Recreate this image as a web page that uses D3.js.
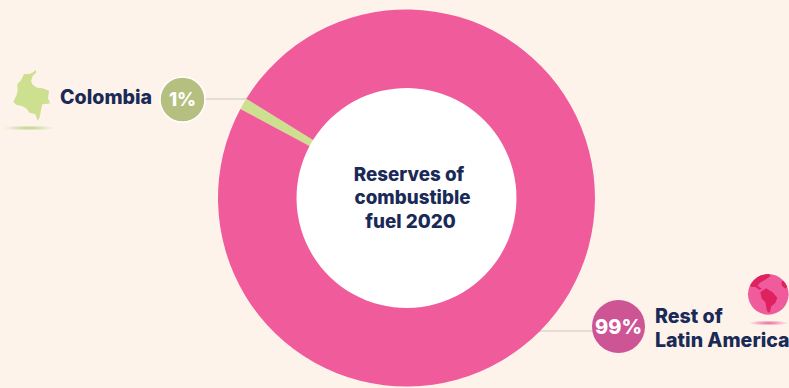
<!DOCTYPE html>
<html>
<head>
<meta charset="utf-8">
<script src="https://cdn.jsdelivr.net/npm/d3@7"></script>
<style>
  html, body { margin: 0; padding: 0; background: #fef3ea; overflow: hidden; }
  svg { display: block; }
  text { font-family: Inter, "Noto Sans", sans-serif; font-weight: 800; }
</style>
</head>
<body>
<svg id="chart" width="789" height="388"></svg>
<script>
// Share of Latin American combustible fuel reserves, 2020
const regions = ["Colombia", "Rest of Latin America"];
const shares = [1, 99];
const shareLabels = ["1%", "99%"];
const sliceColors = ["#cde08f", "#ef5b9b"];
const bubbleColors = ["#b5bf80", "#cd5495"];
const titleLines = ["Reserves of", "combustible", "fuel 2020"];
const restLabelLines = ["Rest of", "Latin America"];

const navy = "#1a2a57";
const svg = d3.select("#chart");
const cx = 406.5, cy = 198, outerR = 188.5, innerR = 110;

const defs = svg.append("defs");
[["shadowGreen", "#b9d486"], ["shadowPink", "#e9659f"]].forEach(([id, color]) => {
  const g = defs.append("radialGradient").attr("id", id);
  g.append("stop").attr("offset", "0%").attr("stop-color", color).attr("stop-opacity", 1);
  g.append("stop").attr("offset", "100%").attr("stop-color", color).attr("stop-opacity", 0);
});
defs.append("clipPath").attr("id", "globeClip")
  .append("circle").attr("cx", 565).attr("cy", 88).attr("r", 61);

// Donut, with the Colombia slice sitting on the upper left
const startAngle = -61.8 * Math.PI / 180;
const pie = d3.pie().sort(null).startAngle(startAngle).endAngle(startAngle + 2 * Math.PI);
const arc = d3.arc().innerRadius(innerR).outerRadius(outerR);

// Leader lines run underneath the ring
svg.append("line").attr("x1", 206).attr("x2", 250).attr("y1", 99).attr("y2", 99)
  .attr("stroke", "#dcd5cb").attr("stroke-width", 1.6);
svg.append("line").attr("x1", 530).attr("x2", 596).attr("y1", 331).attr("y2", 331)
  .attr("stroke", "#dcd5cb").attr("stroke-width", 1.6);

const ring = svg.append("g").attr("transform", `translate(${cx},${cy})`);
ring.append("circle").attr("r", innerR).attr("fill", "#ffffff");
ring.selectAll("path").data(pie(shares)).join("path")
  .attr("d", arc)
  .attr("fill", (d, i) => sliceColors[i]);

// Centre title
const titleX = [409, 412.5, 410.5];
const titleY = [181, 204, 228];
svg.append("g").selectAll("text").data(titleLines).join("text")
  .attr("x", (d, i) => titleX[i])
  .attr("y", (d, i) => titleY[i])
  .attr("text-anchor", "middle")
  .attr("font-size", 18.8)
  .attr("fill", navy)
  .text(d => d);

// Percentage bubbles
const bubbles = [
  { x: 182.5, y: 99.5, r: 22.5, size: 18.5, dy: 6.5 },
  { x: 618.5, y: 326.5, r: 26.5, size: 20, dy: 7 }
];
const bubble = svg.append("g").selectAll("g").data(bubbles).join("g")
  .attr("transform", d => `translate(${d.x},${d.y})`);
bubble.append("circle")
  .attr("r", d => d.r)
  .attr("fill", (d, i) => bubbleColors[i])
  .attr("stroke", "#ffffff")
  .attr("stroke-width", (d, i) => i === 0 ? 1.5 : 0);
bubble.append("text")
  .attr("text-anchor", "middle")
  .attr("y", d => d.dy)
  .attr("font-size", d => d.size)
  .attr("fill", "#ffffff")
  .text((d, i) => shareLabels[i]);

// Category labels
svg.append("text").attr("x", 60).attr("y", 104)
  .attr("font-size", 19.6).attr("fill", navy).text(regions[0]);
svg.append("g").selectAll("text").data(restLabelLines).join("text")
  .attr("x", 655)
  .attr("y", (d, i) => 323 + i * 24)
  .attr("font-size", 19.6)
  .attr("fill", navy)
  .text(d => d);

// Colombia silhouette and its ground shadow
svg.append("ellipse").attr("cx", 29).attr("cy", 128).attr("rx", 26).attr("ry", 2.6)
  .attr("fill", "url(#shadowGreen)");
const colombiaOutline = [
  [108,29],[100,37],[88,42],[72,42],[66,55],[62,62],[52,72],[53,90],[50,105],[40,125],
  [48,134],[66,138],[80,146],[88,158],[106,163],[113,182],[119,172],[123,150],[127,133],
  [143,131],[150,130],[144,115],[147,92],[128,85],[112,83],[98,74],[93,62],[98,48],[108,38]
];
svg.append("path")
  .attr("transform", "translate(0,60) scale(0.3333)")
  .attr("d", d3.line()(colombiaOutline) + "Z")
  .attr("fill", "#cde08f");

// Globe icon centred on the Americas, with its ground shadow
svg.append("ellipse").attr("cx", 768.5).attr("cy", 323).attr("rx", 20).attr("ry", 2.6)
  .attr("fill", "url(#shadowPink)");
const globe = svg.append("g").attr("transform", "translate(580,265) scale(0.3333)");
globe.append("circle").attr("cx", 565).attr("cy", 88).attr("r", 61).attr("fill", "#ef5b9b");
const landMasses = [
  [[508,58],[524,34],[566,26],[572,33],[556,44],[540,53],[533,62],[546,72],[538,74],[526,66],[514,66]],
  [[541,82],[558,70],[578,82],[592,98],[586,114],[574,124],[569,144],[561,138],[556,112],[545,100]],
  [[604,50],[616,44],[626,60],[616,71],[606,62]]
];
globe.append("g").attr("clip-path", "url(#globeClip)")
  .selectAll("path").data(landMasses).join("path")
  .attr("d", d => d3.line()(d) + "Z")
  .attr("fill", "#e0215f");
</script>
</body>
</html>
